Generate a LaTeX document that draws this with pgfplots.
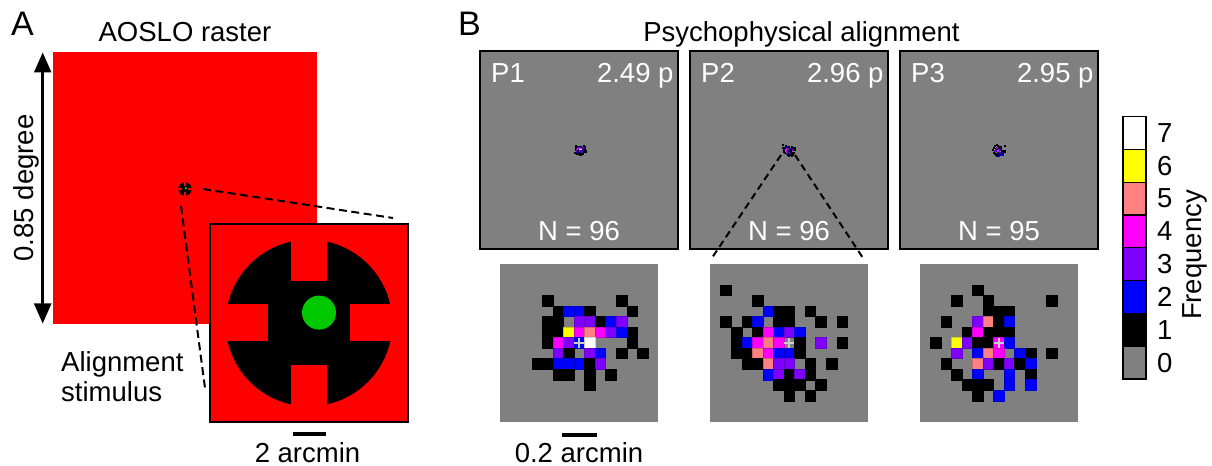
\documentclass[border=0pt]{standalone}
\usepackage{pgfplots}
\pgfplotsset{compat=1.18}
\usepackage{pgfplotstable}
\usepackage{fontspec}
\setmainfont{Liberation Sans}
\usetikzlibrary{arrows.meta}
\definecolor{cgray}{RGB}{128,128,128}
\definecolor{cblue}{RGB}{0,0,255}
\definecolor{cpurple}{RGB}{128,0,255}
\definecolor{cmag}{RGB}{255,0,255}
\definecolor{csalmon}{RGB}{255,128,128}
\definecolor{cyellow}{RGB}{255,255,0}
\definecolor{cred}{RGB}{255,0,0}
\definecolor{cgreen}{RGB}{0,200,0}
\newcommand\myfs{\fontsize{27.5bp}{33bp}\selectfont}
\newcommand\mybigfs{\fontsize{34bp}{40bp}\selectfont}

% P1: column, row (from top), frequency
\pgfplotstableread{
c r v
4 3 1
11 3 1
5 4 1
6 4 2
7 4 2
8 4 1
12 4 1
4 5 1
5 5 1
7 5 3
8 5 3
9 5 1
10 5 2
11 5 3
4 6 1
5 6 1
6 6 6
7 6 4
8 6 5
9 6 4
10 6 3
11 6 2
12 6 1
4 7 1
5 7 4
6 7 3
7 7 2
8 7 7
12 7 1
5 8 3
6 8 1
8 8 3
9 8 2
11 8 1
13 8 1
3 9 1
4 9 1
5 9 2
6 9 2
7 9 2
8 9 1
9 9 3
5 10 1
6 10 1
8 10 1
10 10 1
8 11 1
}\hmA

% P2
\pgfplotstableread{
c r v
1 2 1
4 3 1
5 4 2
6 4 1
7 4 1
9 4 1
1 5 1
3 5 1
4 5 2
6 5 1
7 5 1
10 5 1
12 5 1
2 6 1
4 6 1
5 6 4
6 6 2
7 6 3
8 6 2
2 7 1
3 7 2
4 7 4
5 7 5
6 7 4
8 7 1
10 7 3
12 7 1
2 8 1
3 8 1
4 8 5
5 8 4
6 8 2
7 8 2
8 8 1
3 9 1
4 9 1
5 9 5
6 9 3
7 9 3
9 9 1
11 9 1
5 10 2
6 10 3
7 10 1
8 10 3
9 10 1
6 11 1
7 11 1
8 11 1
10 11 1
7 12 1
9 12 1
}\hmB

% P3
\pgfplotstableread{
c r v
5 2 1
3 3 1
6 3 1
12 3 1
6 4 1
7 4 1
8 4 1
2 5 1
5 5 3
6 5 5
7 5 1
8 5 2
4 6 1
5 6 4
6 6 1
7 6 1
8 6 1
1 7 1
3 7 6
4 7 3
5 7 1
6 7 1
7 7 4
8 7 2
3 8 3
5 8 2
6 8 5
7 8 4
9 8 2
10 8 1
12 8 1
2 9 1
5 9 5
6 9 3
7 9 1
8 9 3
9 9 1
10 9 2
3 10 1
5 10 2
8 10 2
10 10 1
4 11 1
5 11 1
6 11 1
8 11 2
10 11 2
5 12 1
7 12 2
}\hmC

% centre cross position (drawn white = colour 7)
\pgfplotstableread{
c r v
7 7 7
}\ctr

\pgfplotsset{
  colormap={freq}{rgb255=(128,128,128) rgb255=(0,0,0) rgb255=(0,0,255) rgb255=(128,0,255) rgb255=(255,0,255) rgb255=(255,128,128) rgb255=(255,255,0) rgb255=(255,255,255)},
  hmFreqMap/.style={colormap name=freq, colormap access=piecewise const, point meta min=-0.5, point meta max=7.5},
  hmZoomAxis/.style={hmFreqMap, scale only axis, width=158.25bp, height=158.25bp,
    xmin=-0.5, xmax=14.5, ymin=-0.5, ymax=14.5, y dir=reverse, ticks=none,
    axis line style={draw=none}, axis background/.style={fill=cgray}, anchor=north west},
  hmTopAxis/.style={hmFreqMap, scale only axis, width=198bp, height=198bp,
    xmin=-86.4, xmax=100.4, ymin=-86.4, ymax=100.4, y dir=reverse, ticks=none,
    axis line style={black, line width=2bp}, axis background/.style={fill=cgray}, anchor=south west},
  hmCellPlot/.style={scatter, only marks, mark=square*, point meta=explicit, mark options={line width=0.1bp}},
  hmCrossPlot/.style={scatter, only marks, mark=+, mark size=5bp, point meta=explicit, mark options={line width=1.9bp}},
}

\newcommand\stim{%
  \fill[black] (0,0) circle[radius=83.3];
  \fill[cred] (-18,41.7) rectangle (18,100);
  \fill[cred] (-18,-100) rectangle (18,-42.3);
  \fill[cred] (-100,-18.5) rectangle (-41.3,18.5);
  \fill[cred] (40.7,-18.5) rectangle (100,18.5);
  \fill[cgreen] (10,10.4) circle[radius=17];
}

\begin{document}
\begin{tikzpicture}
\path[use as bounding box] (0bp,0bp) rectangle (1212bp,466bp);
% ---------------- Colour bar ----------------
\begin{axis}[at={(1123bp,87bp)}, anchor=south west, scale only axis, width=23bp, height=262.4bp,
  xmin=-0.5, xmax=0.5, ymin=0, ymax=8, ybar stacked, bar width=23bp,
  xtick=\empty, ytick={0.5,1.5,2.5,3.5,4.5,5.5,6.5,7.5}, yticklabels={0,1,2,3,4,5,6,7},
  yticklabel pos=right, major tick length=0pt, axis line style={draw=none},
  yticklabel style={font=\myfs, anchor=west, inner sep=0pt, xshift=11bp}, clip=false]
  \addplot[fill=cgray, draw=black, line width=1.3bp] coordinates {(0,1)};
  \addplot[fill=black, draw=black, line width=1.3bp] coordinates {(0,1)};
  \addplot[fill=cblue, draw=black, line width=1.3bp] coordinates {(0,1)};
  \addplot[fill=cpurple, draw=black, line width=1.3bp] coordinates {(0,1)};
  \addplot[fill=cmag, draw=black, line width=1.3bp] coordinates {(0,1)};
  \addplot[fill=csalmon, draw=black, line width=1.3bp] coordinates {(0,1)};
  \addplot[fill=cyellow, draw=black, line width=1.3bp] coordinates {(0,1)};
  \addplot[fill=white, draw=black, line width=1.3bp] coordinates {(0,1)};
\end{axis}
\begin{scope}[x=1bp, y=1bp]
\node[font=\myfs, rotate=90, anchor=base, inner sep=0] at (1201.3,211) {Frequency};
% ---------------- Panel A ----------------
\node[font=\mybigfs, anchor=base west, inner sep=0] at (11,430) {A};
\node[font=\myfs, anchor=base, inner sep=0] at (185,424) {AOSLO raster};
\fill[cred] (53.3,142) rectangle (316.7,413.7);
\draw[line width=2.5bp, {Triangle[length=20bp,width=17bp]}-{Triangle[length=20bp,width=17bp]}] (42.7,413.5) -- (42.7,142.5);
\node[font=\myfs, rotate=90, anchor=base, inner sep=0] at (33,278) {0.85 degree};
\begin{scope}[shift={(185,277)}, scale=0.08] \stim \end{scope}
\draw[line width=2bp, dash pattern=on 8bp off 4.5bp] (203,277) -- (393,248);
\draw[line width=2bp, dash pattern=on 8bp off 4.5bp] (181,260) -- (205,78);
\begin{scope}
  \clip (210,44) rectangle (408,242);
  \fill[cred] (210,44) rectangle (408,242);
  \begin{scope}[shift={(309,143)}] \stim \end{scope}
\end{scope}
\draw[line width=2bp] (210,44) rectangle (408,242);
\draw[line width=4bp] (293,32) -- (326,32);
\node[font=\myfs, anchor=base, inner sep=0] at (307.5,4) {2 arcmin};
\node[font=\myfs, anchor=base west, inner sep=0] at (61,94.3) {Alignment};
\node[font=\myfs, anchor=base west, inner sep=0] at (61,64.3) {stimulus};
% ---------------- Panel B headings ----------------
\node[font=\mybigfs, anchor=base west, inner sep=0] at (458,430) {B};
\node[font=\myfs, anchor=base, inner sep=0] at (801.5,424) {Psychophysical alignment};
\end{scope}

\begin{axis}[hmTopAxis, at={(480bp,217bp)}]
  \addplot[hmCellPlot, mark size=0.53bp] table[x=c,y=r,meta=v]{\hmA};
\end{axis}
\begin{axis}[hmTopAxis, at={(690bp,217bp)}]
  \addplot[hmCellPlot, mark size=0.53bp] table[x=c,y=r,meta=v]{\hmB};
\end{axis}
\begin{axis}[hmTopAxis, at={(900bp,217bp)}]
  \addplot[hmCellPlot, mark size=0.53bp] table[x=c,y=r,meta=v]{\hmC};
\end{axis}

\begin{scope}[x=1bp, y=1bp]
\node[font=\myfs, text=white, anchor=base west, inner sep=0] at (491,383.7) {P1};
\node[font=\myfs, text=white, anchor=base east, inner sep=0] at (673.7,383.7) {2.49 p};
\node[font=\myfs, text=white, anchor=base, inner sep=0] at (579,226) {N = 96};
\node[font=\myfs, text=white, anchor=base west, inner sep=0] at (701,383.7) {P2};
\node[font=\myfs, text=white, anchor=base east, inner sep=0] at (883.7,383.7) {2.96 p};
\node[font=\myfs, text=white, anchor=base, inner sep=0] at (789,226) {N = 96};
\node[font=\myfs, text=white, anchor=base west, inner sep=0] at (911,383.7) {P3};
\node[font=\myfs, text=white, anchor=base east, inner sep=0] at (1093.7,383.7) {2.95 p};
\node[font=\myfs, text=white, anchor=base, inner sep=0] at (999,226) {N = 95};
\draw[line width=2bp, dash pattern=on 7bp off 4.5bp] (781,311) -- (711.7,207.7);
\draw[line width=2bp, dash pattern=on 7bp off 4.5bp] (795,311) -- (863,208);
\draw[line width=4bp] (561.7,31) -- (596.7,31);
\node[font=\myfs, anchor=base, inner sep=0] at (579,4) {0.2 arcmin};
\end{scope}

\begin{axis}[hmZoomAxis, at={(500bp,202.5bp)}]
  \addplot[hmCellPlot, mark size=5.3bp] table[x=c,y=r,meta=v]{\hmA};
  \addplot[hmCrossPlot] table[x=c,y=r,meta=v]{\ctr};
\end{axis}
\begin{axis}[hmZoomAxis, at={(710bp,202.5bp)}]
  \addplot[hmCellPlot, mark size=5.3bp] table[x=c,y=r,meta=v]{\hmB};
  \addplot[hmCrossPlot] table[x=c,y=r,meta=v]{\ctr};
\end{axis}
\begin{axis}[hmZoomAxis, at={(919.5bp,202.5bp)}]
  \addplot[hmCellPlot, mark size=5.3bp] table[x=c,y=r,meta=v]{\hmC};
  \addplot[hmCrossPlot] table[x=c,y=r,meta=v]{\ctr};
\end{axis}
\end{tikzpicture}
\end{document}
